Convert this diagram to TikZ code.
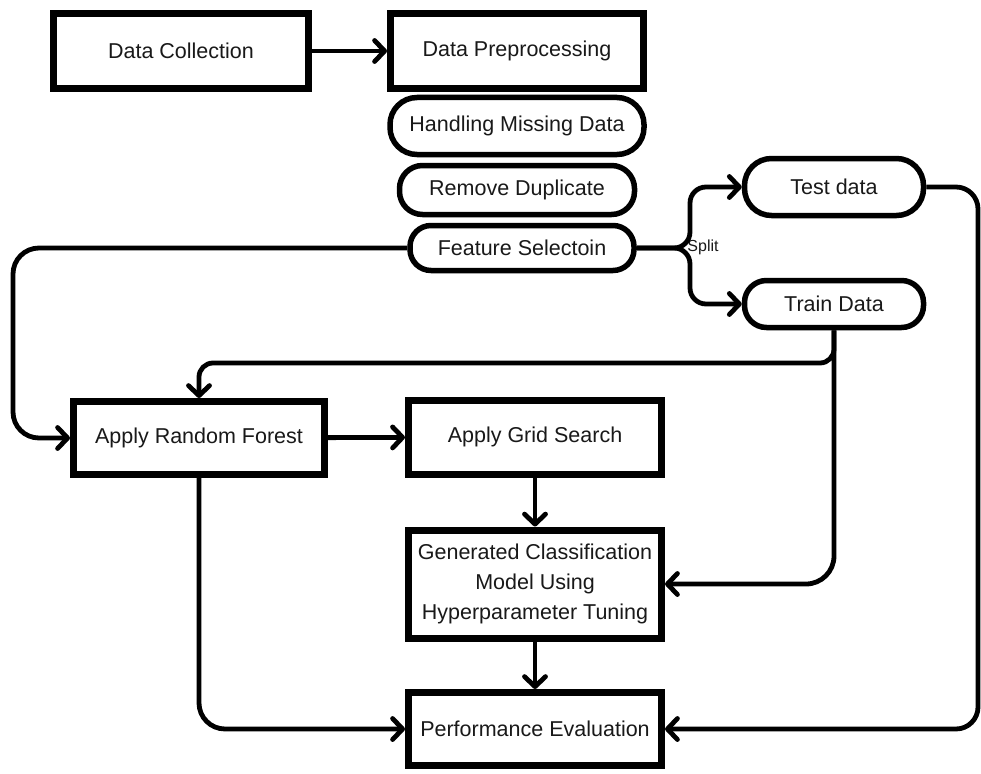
\documentclass[tikz,border=0pt]{standalone}
\usepackage{fontspec}
\setmainfont{Liberation Sans}
\usetikzlibrary{arrows.meta}
\newcommand\mainfs{\fontsize{21.5}{30}\selectfont}
\newcommand\smallfs{\fontsize{16}{18}\selectfont}
\begin{document}
\begin{tikzpicture}[x=1pt,y=-1pt,
  sq/.style={draw, line width=7pt, inner sep=2pt, align=center, font=\mainfs, text=black!90},
  pill/.style={draw, line width=5.5pt, inner sep=2pt, align=center, font=\mainfs, text=black!90},
  conn/.style={line width=4.8pt, -{Straight Barb[length=10pt,width=21pt,line cap=round,line join=round]}},
  plain/.style={line width=4.8pt}
]
\useasboundingbox[fill=white] (0,0) rectangle (981,773);

% top row
\node[sq, minimum width=255pt, minimum height=75pt] (dc) at (181,51) {Data Collection};
\node[sq, minimum width=253pt, minimum height=75pt] (dp) at (517,51) {Data Preprocessing};

% preprocessing steps
\node[pill, minimum width=254pt, minimum height=57pt, rounded corners=27pt] (hmd) at (517,126) {Handling Missing Data};
\node[pill, minimum width=235pt, minimum height=49pt, rounded corners=23pt] (rd) at (517,190) {Remove Duplicate};
\node[pill, minimum width=224pt, minimum height=45pt, rounded corners=21pt] (fs) at (522,248) {Feature Selectoin};

% split
\node[pill, minimum width=179pt, minimum height=57pt, rounded corners=27pt] (test) at (834,187) {Test data};
\node[pill, minimum width=179pt, minimum height=47pt, rounded corners=22pt] (train) at (834,304) {Train Data};
\coordinate (sp) at (690,248);
\node[font=\smallfs, text=black!90, inner sep=0pt] (splitlbl) at (703,247) {Split};

% model boxes
\node[sq, minimum width=251pt, minimum height=73pt] (arf) at (199,438) {Apply Random Forest};
\node[sq, minimum width=253pt, minimum height=74pt] (ags) at (535,437) {Apply Grid Search};
\node[sq, minimum width=253pt, minimum height=108pt] (gc) at (535,584) {Generated Classification\\Model Using\\Hyperparameter Tuning};
\node[sq, minimum width=253pt, minimum height=73pt] (pe) at (535,729) {Performance Evaluation};

% helper coordinates
\coordinate (fsl) at (13,248);
\coordinate (trj) at (834,363);
\coordinate (ter) at (978,187);

% connectors
\draw[conn] (dc) -- (dp);
\draw[conn, rounded corners=16pt] (fs.east) -- (sp) |- (test.west);
\draw[conn, rounded corners=16pt] (fs.east) -- (sp) |- (train.west);
\draw[conn, rounded corners=26pt] (fs.west) -- (fsl) |- (arf.west);
\draw[conn, rounded corners=14pt] (train.south) -- (trj) -| (arf.north);
\draw[conn, rounded corners=28pt] (train.south) |- (gc.east);
\draw[conn, rounded corners=22pt] (test.east) -- (ter) |- (pe.east);
\draw[conn] (arf) -- (ags);
\draw[conn] (ags) -- (gc);
\draw[conn] (gc) -- (pe);
\draw[conn, rounded corners=26pt] (arf.south) |- (pe.west);
\end{tikzpicture}
\end{document}
